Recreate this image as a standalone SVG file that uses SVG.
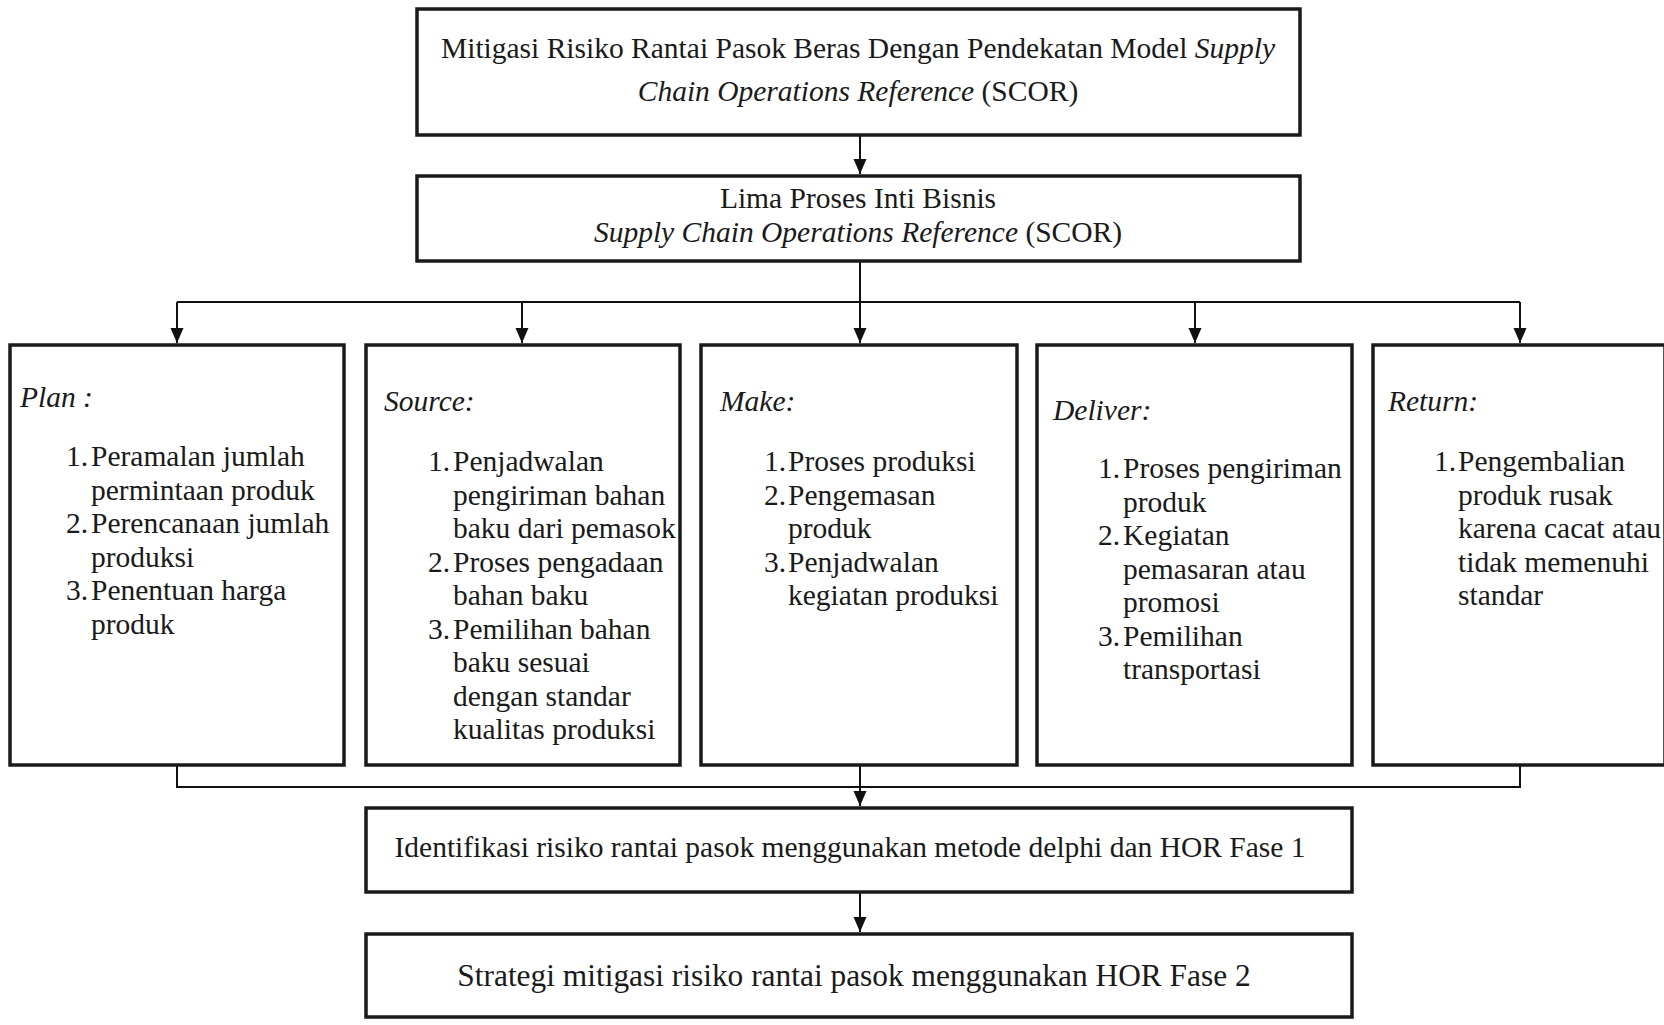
<svg xmlns="http://www.w3.org/2000/svg" width="1664" height="1025" viewBox="0 0 1664 1025">
<defs>
<style>
.box{fill:#fff;stroke:#1a1a1a;stroke-width:3.5}
.t{font-family:"Liberation Serif","Times New Roman",serif;font-size:29.5px;fill:#1a1a1a}
.i{font-style:italic}
.c{text-anchor:middle}
.con{fill:none;stroke:#111;stroke-width:2}
</style>
<marker id="ah" markerUnits="userSpaceOnUse" viewBox="0 0 15 14" markerWidth="15" markerHeight="14" refX="15" refY="7" orient="auto">
<path d="M0,0.5 L15,7 L0,13.5 z" fill="#111"/>
</marker>
</defs>
<rect width="1664" height="1025" fill="#fff"/>

<g id="connectors">
<line class="con" x1="860" y1="136" x2="860" y2="174" marker-end="url(#ah)"/>
<line class="con" x1="860" y1="262" x2="860" y2="302"/>
<line class="con" x1="177" y1="302" x2="1520" y2="302"/>
<line class="con" x1="177" y1="302" x2="177" y2="343" marker-end="url(#ah)"/>
<line class="con" x1="522" y1="302" x2="522" y2="343" marker-end="url(#ah)"/>
<line class="con" x1="860" y1="302" x2="860" y2="343" marker-end="url(#ah)"/>
<line class="con" x1="1195" y1="302" x2="1195" y2="343" marker-end="url(#ah)"/>
<line class="con" x1="1520" y1="302" x2="1520" y2="343" marker-end="url(#ah)"/>
<polyline class="con" points="177,766 177,787 1520,787 1520,766"/>
<line class="con" x1="860" y1="766" x2="860" y2="806" marker-end="url(#ah)"/>
<line class="con" x1="860" y1="893" x2="860" y2="932" marker-end="url(#ah)"/>
</g>

<g id="node-title">
<rect class="box" x="417" y="9" width="883" height="126"/>
<text class="t c" x="858" y="58">Mitigasi Risiko Rantai Pasok Beras Dengan Pendekatan Model <tspan class="i">Supply</tspan></text>
<text class="t c" x="858" y="101"><tspan class="i">Chain Operations Reference</tspan> (SCOR)</text>
</g>

<g id="node-scor">
<rect class="box" x="417" y="176" width="883" height="85"/>
<text class="t c" x="858" y="208">Lima Proses Inti Bisnis</text>
<text class="t c" x="858" y="242"><tspan class="i">Supply Chain Operations Reference</tspan>  (SCOR)</text>
</g>

<g id="node-plan">
<rect class="box" x="10" y="345" width="334" height="420"/>
<text class="t i" x="20" y="407">Plan :</text>
<text class="t">
<tspan x="66" y="466">1.</tspan><tspan x="91" y="466">Peramalan jumlah</tspan>
<tspan x="91" y="499.5">permintaan produk</tspan>
<tspan x="66" y="533">2.</tspan><tspan x="91" y="533">Perencanaan jumlah</tspan>
<tspan x="91" y="566.5">produksi</tspan>
<tspan x="66" y="600">3.</tspan><tspan x="91" y="600">Penentuan harga</tspan>
<tspan x="91" y="633.5">produk</tspan>
</text>
</g>

<g id="node-source">
<rect class="box" x="366" y="345" width="314" height="420"/>
<text class="t i" x="384" y="411">Source:</text>
<text class="t">
<tspan x="428" y="471">1.</tspan><tspan x="453" y="471">Penjadwalan</tspan>
<tspan x="453" y="504.5">pengiriman bahan</tspan>
<tspan x="453" y="538">baku dari pemasok</tspan>
<tspan x="428" y="571.5">2.</tspan><tspan x="453" y="571.5">Proses pengadaan</tspan>
<tspan x="453" y="605">bahan baku</tspan>
<tspan x="428" y="638.5">3.</tspan><tspan x="453" y="638.5">Pemilihan bahan</tspan>
<tspan x="453" y="672">baku sesuai</tspan>
<tspan x="453" y="705.5">dengan standar</tspan>
<tspan x="453" y="739">kualitas produksi</tspan>
</text>
</g>

<g id="node-make">
<rect class="box" x="701" y="345" width="316" height="420"/>
<text class="t i" x="720" y="411">Make:</text>
<text class="t">
<tspan x="764" y="471">1.</tspan><tspan x="788" y="471">Proses produksi</tspan>
<tspan x="764" y="504.5">2.</tspan><tspan x="788" y="504.5">Pengemasan</tspan>
<tspan x="788" y="538">produk</tspan>
<tspan x="764" y="571.5">3.</tspan><tspan x="788" y="571.5">Penjadwalan</tspan>
<tspan x="788" y="605">kegiatan produksi</tspan>
</text>
</g>

<g id="node-deliver">
<rect class="box" x="1037" y="345" width="315" height="420"/>
<text class="t i" x="1053" y="420">Deliver:</text>
<text class="t">
<tspan x="1098" y="478">1.</tspan><tspan x="1123" y="478">Proses pengiriman</tspan>
<tspan x="1123" y="511.5">produk</tspan>
<tspan x="1098" y="545">2.</tspan><tspan x="1123" y="545">Kegiatan</tspan>
<tspan x="1123" y="578.5">pemasaran atau</tspan>
<tspan x="1123" y="612">promosi</tspan>
<tspan x="1098" y="645.5">3.</tspan><tspan x="1123" y="645.5">Pemilihan</tspan>
<tspan x="1123" y="679">transportasi</tspan>
</text>
</g>

<g id="node-return">
<rect class="box" x="1373" y="345" width="292" height="420"/>
<text class="t i" x="1388" y="411">Return:</text>
<text class="t">
<tspan x="1434" y="471">1.</tspan><tspan x="1458" y="471">Pengembalian</tspan>
<tspan x="1458" y="504.5">produk rusak</tspan>
<tspan x="1458" y="538">karena cacat atau</tspan>
<tspan x="1458" y="571.5">tidak memenuhi</tspan>
<tspan x="1458" y="605">standar</tspan>
</text>
</g>

<g id="node-identifikasi">
<rect class="box" x="366" y="808" width="986" height="84"/>
<text class="t c" x="850" y="857">Identifikasi risiko rantai pasok menggunakan metode delphi dan HOR Fase 1</text>
</g>

<g id="node-strategi">
<rect class="box" x="366" y="934" width="986" height="83"/>
<text class="t c" x="854" y="986" style="font-size:31.4px">Strategi mitigasi risiko rantai pasok menggunakan HOR Fase 2</text>
</g>
</svg>
